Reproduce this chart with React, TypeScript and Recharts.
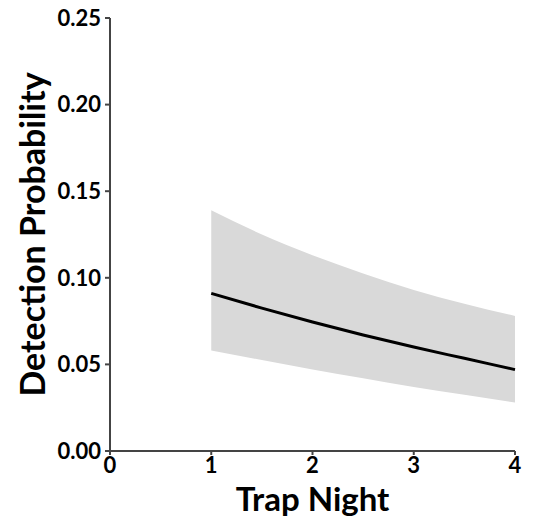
import React from "react";
import { ComposedChart, Area, Line, XAxis, YAxis } from "recharts";

const trapNights = [1, 1.5, 2, 2.5, 3, 3.5, 4];
const meanProb = [0.091, 0.0825, 0.0745, 0.067, 0.06, 0.0535, 0.047];
const lowerProb = [0.058, 0.0525, 0.047, 0.042, 0.037, 0.0325, 0.028];
const upperProb = [0.139, 0.125, 0.113, 0.1025, 0.093, 0.085, 0.078];
const xTicks = [0, 1, 2, 3, 4];
const yTicks = [0, 0.05, 0.1, 0.15, 0.2, 0.25];

const data = trapNights.map((x, i) => ({
  x,
  mean: meanProb[i],
  band: [lowerProb[i], upperProb[i]],
}));

const FONT = "Lato, 'Open Sans', sans-serif";

export default function App() {
  return (
    <div style={{ position: "absolute", left: 0, top: 0, background: "#fff" }}>
      <ComposedChart
        width={537}
        height={517}
        data={data}
        margin={{ top: 18, right: 22, left: 0, bottom: 0 }}
      >
        <XAxis
          dataKey="x"
          type="number"
          domain={[0, 4]}
          ticks={xTicks}
          height={66}
          axisLine={{ stroke: "#444", strokeWidth: 2 }}
          tickLine={{ stroke: "#444", strokeWidth: 2 }}
          tickSize={4}
          tick={{ fill: "#000", fontSize: 22, fontWeight: 700, fontFamily: FONT }}
          tickMargin={2}
          label={{
            value: "Trap Night",
            position: "insideBottom",
            offset: 6,
            fill: "#000",
            fontSize: 33,
            fontWeight: 700,
            fontFamily: FONT,
          }}
        />
        <YAxis
          type="number"
          domain={[0, 0.25]}
          ticks={yTicks}
          width={110}
          allowDataOverflow
          axisLine={{ stroke: "#444", strokeWidth: 2 }}
          tickLine={{ stroke: "#444", strokeWidth: 2 }}
          tickSize={5}
          tickMargin={4}
          tickFormatter={(v: number) => v.toFixed(2)}
          tick={{ fill: "#000", fontSize: 22, fontWeight: 700, fontFamily: FONT }}
          label={{
            value: "Detection Probability",
            angle: -90,
            position: "insideLeft",
            offset: 33,
            style: { textAnchor: "middle" },
            fill: "#000",
            fontSize: 34,
            fontWeight: 700,
            fontFamily: FONT,
          }}
        />
        <Area
          type="monotone"
          dataKey="band"
          stroke="none"
          fill="#d9d9d9"
          fillOpacity={1}
          isAnimationActive={false}
          dot={false}
          activeDot={false}
        />
        <Line
          type="monotone"
          dataKey="mean"
          stroke="#000"
          strokeWidth={3}
          dot={false}
          activeDot={false}
          isAnimationActive={false}
        />
      </ComposedChart>
    </div>
  );
}
